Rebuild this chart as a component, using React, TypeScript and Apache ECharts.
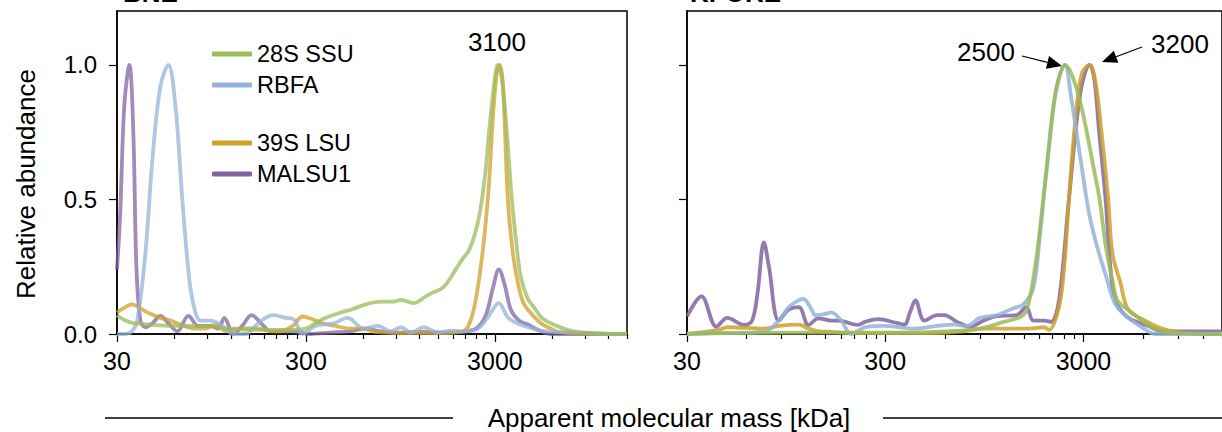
import React, { useEffect, useRef } from "react";
import * as echarts from "echarts";

// ---------- data (apparent molecular mass in kDa, relative abundance) ----------
const seriesNames = ["28S SSU", "RBFA", "39S LSU", "MALSU1"];
const majorTicks = [30, 300, 3000];
const minorTicks = [60, 90, 120, 150, 180, 210, 240, 270, 600, 900, 1200, 1500, 1800, 2100, 2400, 2700, 6000, 9000, 12000, 15000];
const yTicks = [0, 0.5, 1.0];
const massMin = 30;
const massMax = 15000;

// Left panel
const leftSSU: [number, number][] = [
  [30, 0.07], [33.2, 0.05], [36.6, 0.04], [45, 0.035], [57.5, 0.03], [83, 0.03], [120, 0.02], [172, 0.015],
  [249, 0.015], [299, 0.02], [337, 0.04], [381, 0.06], [458, 0.08], [517, 0.09], [621, 0.11], [745, 0.12],
  [874, 0.12], [955, 0.127], [1116, 0.115], [1291, 0.14], [1372, 0.15], [1608, 0.175], [1862, 0.24],
  [2028, 0.28], [2182, 0.31], [2347, 0.37], [2496, 0.45], [2652, 0.58], [2819, 0.78], [2997, 0.95],
  [3107, 1.0], [3265, 0.95], [3469, 0.75], [3688, 0.5], [3919, 0.32], [4117, 0.21], [4483, 0.13],
  [4824, 0.1], [5318, 0.06], [5935, 0.04], [7305, 0.015], [8880, 0.005], [15000, 0.0],
];
const leftRBFA: [number, number][] = [
  [30, 0.0], [33.2, 0.0], [36, 0.01], [38.4, 0.05], [42.4, 0.3], [46.2, 0.65], [50.9, 0.92], [56.1, 1.0],
  [61.1, 0.85], [66.5, 0.5], [72.5, 0.2], [78, 0.08], [83, 0.05], [93.7, 0.05], [103, 0.04], [112.5, 0.02],
  [124, 0.0], [144, 0.0], [162, 0.03], [183, 0.06], [202, 0.07], [234, 0.06], [258, 0.055], [288, 0.0],
  [337, 0.03], [420, 0.04], [498, 0.06], [605, 0.02], [719, 0.03], [842, 0.01], [955, 0.025], [1075, 0.005],
  [1260, 0.025], [1494, 0.005], [1762, 0.012], [2070, 0.01], [2436, 0.02], [2740, 0.06], [3147, 0.115],
  [3530, 0.06], [4090, 0.035], [4770, 0.02], [5630, 0.01], [8780, 0.005], [12000, 0.0], [15000, 0.0],
];
const leftLSU: [number, number][] = [
  [30, 0.08], [33.2, 0.1], [36, 0.11], [39.9, 0.095], [45, 0.075], [50.9, 0.06], [57.5, 0.05], [65, 0.035],
  [78, 0.02], [88, 0.02], [99.5, 0.035], [112.5, 0.012], [135, 0.02], [162, 0.022], [190, 0.012], [220, 0.01],
  [255, 0.03], [288, 0.065], [325, 0.055], [367, 0.04], [430, 0.03], [517, 0.02], [598, 0.02], [676, 0.01],
  [793, 0.005], [955, 0.003], [1551, 0.003], [2028, 0.01], [2155, 0.026], [2292, 0.077], [2406, 0.15],
  [2526, 0.25], [2652, 0.38], [2785, 0.55], [2925, 0.8], [3070, 0.97], [3185, 1.0], [3305, 0.93],
  [3512, 0.5], [3733, 0.3], [3968, 0.19], [4218, 0.12], [4483, 0.09], [5254, 0.04], [5935, 0.02],
  [6466, 0.008], [8560, 0.002], [15000, 0.0],
];
const leftMALSU1: [number, number][] = [
  [30, 0.24], [31.2, 0.45], [32.8, 0.85], [34.9, 1.0], [36.6, 0.75], [38, 0.25], [39.9, 0.05], [42.4, 0.025],
  [46.2, 0.04], [50.9, 0.067], [56.1, 0.04], [62.6, 0.01], [71.6, 0.067], [80.9, 0.03], [93.7, 0.03],
  [103, 0.02], [111, 0.06], [124, 0.0], [138, 0.03], [154.5, 0.07], [179, 0.03], [195, 0.01], [249, 0.01],
  [317, 0.0], [405, 0.005], [517, 0.01], [621, 0.02], [745, 0.01], [955, 0.005], [1215, 0.008],
  [1551, 0.005], [1979, 0.008], [2376, 0.02], [2685, 0.07], [2925, 0.17], [3147, 0.24], [3386, 0.18],
  [3643, 0.09], [4018, 0.05], [4483, 0.035], [5254, 0.01], [5935, 0.0], [15000, 0.0],
];

// Right panel
const rightSSU: [number, number][] = [
  [30, 0.0], [50, 0.003], [100, 0.005], [200, 0.005], [400, 0.006], [616, 0.01], [900, 0.02], [1186, 0.045],
  [1493, 0.07], [1599, 0.125], [1750, 0.3], [1879, 0.5], [2050, 0.75], [2200, 0.92], [2420, 1.0],
  [2600, 0.97], [2850, 0.88], [3080, 0.77], [3350, 0.63], [3620, 0.5], [3880, 0.33], [4200, 0.2],
  [4450, 0.125], [5050, 0.09], [6360, 0.033], [7470, 0.01], [9000, 0.003], [15000, 0.0],
];
const rightRBFA: [number, number][] = [
  [30, 0.0], [40, 0.003], [60, 0.005], [75, 0.01], [87, 0.05], [98, 0.1], [110, 0.126], [116, 0.13],
  [128, 0.09], [133, 0.07], [150, 0.075], [160, 0.08], [180, 0.05], [202, 0.0], [237, 0.025], [298, 0.03],
  [421, 0.02], [549, 0.03], [667, 0.035], [775, 0.03], [900, 0.06], [1094, 0.07], [1331, 0.096],
  [1493, 0.11], [1675, 0.17], [1800, 0.35], [1950, 0.6], [2150, 0.88], [2420, 1.0], [2600, 0.88],
  [2900, 0.65], [3200, 0.45], [3500, 0.33], [3880, 0.22], [4350, 0.11], [5050, 0.06], [6360, 0.01],
  [6890, 0.0], [15000, 0.0],
];
const rightLSU: [number, number][] = [
  [30, 0.0], [43, 0.015], [48, 0.025], [73, 0.02], [87, 0.03], [110, 0.035], [123, 0.02], [138, 0.01],
  [160, 0.008], [200, 0.003], [300, 0.003], [500, 0.003], [750, 0.01], [940, 0.02], [1600, 0.02],
  [1900, 0.025], [2013, 0.015], [2258, 0.1], [2400, 0.25], [2534, 0.5], [2750, 0.82], [2950, 0.97],
  [3226, 1.0], [3460, 0.93], [3700, 0.75], [4000, 0.5], [4200, 0.3], [4609, 0.19], [5053, 0.09],
  [6143, 0.05], [7467, 0.02], [8976, 0.006], [11000, 0.0], [15000, 0.0],
];
const rightMALSU1: [number, number][] = [
  [30, 0.065], [35.5, 0.14], [42.2, 0.027], [47.9, 0.06], [58.3, 0.034], [63.9, 0.05], [68, 0.15],
  [73.3, 0.34], [77.7, 0.25], [87.1, 0.05], [97.7, 0.09], [110, 0.1], [123, 0.033], [138, 0.058],
  [160, 0.05], [174, 0.05], [219, 0.034], [237, 0.045], [275, 0.055], [346, 0.04], [375, 0.035],
  [400, 0.08], [426, 0.125], [473, 0.05], [549, 0.07], [595, 0.07], [691, 0.045], [802, 0.027],
  [942, 0.05], [1094, 0.066], [1377, 0.07], [1545, 0.1], [1675, 0.05], [1900, 0.05], [2060, 0.045],
  [2258, 0.125], [2534, 0.5], [2900, 0.9], [3226, 1.0], [3400, 0.95], [3600, 0.75], [3880, 0.5],
  [4100, 0.25], [4350, 0.125], [5053, 0.06], [6360, 0.03], [7467, 0.01], [12680, 0.01], [15000, 0.01],
];

const colors: Record<string, string> = {
  "28S SSU": "#9BBB59",
  RBFA: "#95B3D7",
  "39S LSU": "#CFA02A",
  MALSU1: "#8064A2",
};

const FONT = "'Liberation Sans', Arial, Helvetica, sans-serif";
const lg = (m: number) => Math.log10(m);

function arrow(x1: number, y1: number, x2: number, y2: number) {
  const dx = x2 - x1;
  const dy = y2 - y1;
  const len = Math.sqrt(dx * dx + dy * dy);
  const ux = dx / len;
  const uy = dy / len;
  const hl = 15;
  const hw = 6.5;
  const bx = x2 - ux * hl;
  const by = y2 - uy * hl;
  return [
    { type: "line", shape: { x1, y1, x2: bx, y2: by }, style: { stroke: "#000", lineWidth: 1.2 } },
    {
      type: "polygon",
      shape: { points: [[x2, y2], [bx - uy * hw, by + ux * hw], [bx + uy * hw, by - ux * hw]] },
      style: { fill: "#000" },
    },
  ];
}

export default function App() {
  const ref = useRef<HTMLDivElement>(null);
  useEffect(() => {
    if (!ref.current) return;
    const chart = echarts.init(ref.current, undefined, { renderer: "svg" });

    const grids = [
      { left: 117, top: 11, width: 510, height: 323 },
      { left: 687, top: 11, width: 541, height: 323 },
    ];
    const xAxes: any[] = [];
    const yAxes: any[] = [];
    grids.forEach((_, gi) => {
      xAxes.push({
        type: "value",
        gridIndex: gi,
        position: "bottom",
        min: lg(massMin),
        max: lg(massMax),
        axisLine: { show: true, lineStyle: { color: "#000", width: 1.5 } },
        axisTick: { show: true, length: 8, customValues: majorTicks.map(lg), lineStyle: { color: "#000", width: 1.2 } },
        axisLabel: {
          show: true,
          customValues: majorTicks.map(lg),
          formatter: (v: number) => String(Math.round(Math.pow(10, v))),
          color: "#000",
          fontSize: 25,
          fontFamily: FONT,
          margin: 14,
        },
        splitLine: { show: false },
      });
      xAxes.push({
        type: "value",
        gridIndex: gi,
        position: "bottom",
        min: lg(massMin),
        max: lg(massMax),
        axisLine: { show: false },
        axisTick: { show: true, length: 5, customValues: minorTicks.map(lg), lineStyle: { color: "#000", width: 1.2 } },
        axisLabel: { show: false },
        splitLine: { show: false },
      });
      yAxes.push({
        type: "value",
        gridIndex: gi,
        min: 0,
        max: 1.2,
        axisLine: { show: true, lineStyle: { color: "#000", width: 1.5 } },
        axisTick: { show: true, length: 8, customValues: yTicks, lineStyle: { color: "#000", width: 1.2 } },
        axisLabel: {
          show: gi === 0,
          customValues: yTicks,
          formatter: (v: number) => v.toFixed(1),
          color: "#000",
          fontSize: 24,
          fontFamily: FONT,
          margin: 20,
        },
        splitLine: { show: false },
      });
    });

    const panels = [
      { xi: 0, yi: 0, op: 0.75, data: { MALSU1: leftMALSU1, "39S LSU": leftLSU, RBFA: leftRBFA, "28S SSU": leftSSU } },
      { xi: 2, yi: 1, op: 0.85, data: { MALSU1: rightMALSU1, "39S LSU": rightLSU, RBFA: rightRBFA, "28S SSU": rightSSU } },
    ];
    const drawOrder = ["MALSU1", "39S LSU", "RBFA", "28S SSU"];
    const series: any[] = [];
    panels.forEach((p) => {
      drawOrder.forEach((name) => {
        const arr = (p.data as any)[name] as [number, number][];
        series.push({
          type: "line",
          name,
          xAxisIndex: p.xi,
          yAxisIndex: p.yi,
          data: arr.map(([m, v]) => [lg(m), v]),
          smooth: 0.35,
          showSymbol: false,
          symbol: "none",
          color: colors[name],
          lineStyle: { width: 3.8, color: colors[name], opacity: p.op },
          clip: true,
          silent: true,
        });
      });
    });

    const legendCommon = {
      orient: "vertical",
      left: 212,
      padding: 0,
      itemWidth: 40,
      itemHeight: 5,
      itemGap: 7,
      icon: "roundRect",
      selectedMode: false,
      textStyle: { fontSize: 23.5, color: "#000", fontFamily: FONT, lineHeight: 24 },
    };

    const graphic: any[] = [
      {
        type: "text",
        x: 26,
        y: 184,
        rotation: Math.PI / 2,
        style: { text: "Relative abundance", fontSize: 26, fontFamily: FONT, fill: "#000", align: "center", verticalAlign: "middle" },
      },
      {
        type: "text",
        x: 669,
        y: 418,
        style: { text: "Apparent molecular mass [kDa]", fontSize: 26, fontFamily: FONT, fill: "#000", align: "center", verticalAlign: "middle" },
      },
      { type: "line", shape: { x1: 105, y1: 418, x2: 453, y2: 418 }, style: { stroke: "#000", lineWidth: 1.3 } },
      { type: "line", shape: { x1: 883, y1: 418, x2: 1222, y2: 418 }, style: { stroke: "#000", lineWidth: 1.3 } },
      {
        type: "text",
        x: 497,
        y: 42,
        style: { text: "3100", fontSize: 26, fontFamily: FONT, fill: "#000", align: "center", verticalAlign: "middle" },
      },
      {
        type: "text",
        x: 986,
        y: 52,
        style: { text: "2500", fontSize: 26, fontFamily: FONT, fill: "#000", align: "center", verticalAlign: "middle" },
      },
      {
        type: "text",
        x: 1180,
        y: 44,
        style: { text: "3200", fontSize: 26, fontFamily: FONT, fill: "#000", align: "center", verticalAlign: "middle" },
      },
      ...arrow(1022, 56, 1062, 66),
      ...arrow(1142, 47, 1102, 62),
      {
        type: "text",
        x: 123,
        y: 6,
        style: { text: "BNE", fontSize: 26, fontWeight: "bold", fontFamily: FONT, fill: "#000", align: "left", verticalAlign: "bottom" },
      },
      {
        type: "text",
        x: 690,
        y: 6,
        style: { text: "KI-OKE", fontSize: 26, fontWeight: "bold", fontFamily: FONT, fill: "#000", align: "left", verticalAlign: "bottom" },
      },
    ];

    chart.setOption({
      animation: false,
      backgroundColor: "#fff",
      grid: grids.map((g) => ({ ...g, show: true, borderColor: "#000", borderWidth: 1.5, backgroundColor: "transparent" })),
      xAxis: xAxes,
      yAxis: yAxes,
      legend: [
        { ...legendCommon, top: 42, data: [seriesNames[0], seriesNames[1]] },
        { ...legendCommon, top: 131, data: [seriesNames[2], seriesNames[3]] },
      ],
      series,
      graphic,
    });
    return () => chart.dispose();
  }, []);
  return <div ref={ref} style={{ position: "fixed", left: 0, top: 0, width: 1222, height: 432 }} />;
}
